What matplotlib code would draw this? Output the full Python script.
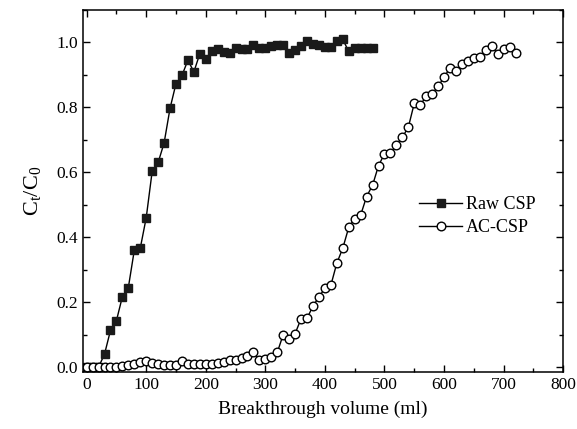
import matplotlib
matplotlib.use("Agg")
import matplotlib.pyplot as plt
from matplotlib.ticker import MultipleLocator

plt.rcParams['font.family'] = ['Liberation Serif', 'DejaVu Serif']
plt.rcParams['mathtext.fontset'] = 'custom'
plt.rcParams['mathtext.rm'] = 'Liberation Serif'
plt.rcParams['mathtext.it'] = 'Liberation Serif'

raw_x = [0, 10, 20, 30, 40, 50, 60, 70, 80, 90, 100, 110, 120, 130, 140, 150, 160, 170, 180, 190,
         200, 210, 220, 230, 240, 250, 260, 270, 280, 290, 300, 310, 320, 330, 340, 350, 360, 370,
         380, 390, 400, 410, 420, 430, 440, 450, 460, 470, 480]
raw_y = [0.0, 0.0, 0.0, 0.04, 0.113, 0.143, 0.217, 0.245, 0.36, 0.366, 0.46, 0.603, 0.63, 0.69,
         0.797, 0.873, 0.898, 0.945, 0.909, 0.965, 0.948, 0.972, 0.98, 0.971, 0.968, 0.983, 0.978,
         0.979, 0.991, 0.982, 0.982, 0.99, 0.992, 0.993, 0.968, 0.977, 0.989, 1.005, 0.995, 0.993,
         0.986, 0.985, 1.003, 1.009, 0.972, 0.982, 0.982, 0.982, 0.982]

ac_x = list(range(0, 730, 10))
ac_y = [0.0, 0.0, 0.0, 0.0, 0.0, 0.0, 0.003, 0.007, 0.01, 0.015, 0.018, 0.011, 0.009, 0.007,
        0.007, 0.007, 0.018, 0.008, 0.008, 0.008, 0.008, 0.009, 0.012, 0.015, 0.023, 0.021,
        0.027, 0.034, 0.045, 0.022, 0.024, 0.032, 0.045, 0.1, 0.087, 0.103, 0.149, 0.15, 0.188,
        0.216, 0.243, 0.252, 0.32, 0.366, 0.43, 0.457, 0.468, 0.525, 0.56, 0.62, 0.657, 0.658,
        0.685, 0.708, 0.738, 0.812, 0.806, 0.835, 0.841, 0.865, 0.892, 0.922, 0.913, 0.933,
        0.942, 0.953, 0.955, 0.975, 0.988, 0.965, 0.978, 0.987, 0.966]

fig = plt.figure(figsize=(5.77, 4.29), dpi=100)
ax = fig.add_axes([0.144, 0.133, 0.832, 0.844])

ax.plot(raw_x, raw_y, color='black', lw=1.0, marker='s', markersize=5.2,
        markerfacecolor='#1a1a1a', markeredgecolor='#1a1a1a', label='Raw CSP', zorder=2)
ax.plot(ac_x, ac_y, color='black', lw=1.0, marker='o', markersize=6.2,
        markerfacecolor='white', markeredgecolor='black', markeredgewidth=1.0,
        label='AC-CSP', zorder=3)

ax.set_xlim(-6, 800)
ax.set_ylim(-0.015, 1.1)
ax.xaxis.set_major_locator(MultipleLocator(100))
ax.xaxis.set_minor_locator(MultipleLocator(50))
ax.yaxis.set_major_locator(MultipleLocator(0.2))
ax.yaxis.set_minor_locator(MultipleLocator(0.1))
ax.yaxis.set_major_formatter(matplotlib.ticker.FormatStrFormatter('%.1f'))
ax.tick_params(which='both', direction='in', top=True, right=True, labelsize=12.5, width=1.0)
ax.tick_params(which='major', length=5)
ax.tick_params(which='minor', length=3)
for s in ax.spines.values():
    s.set_linewidth(1.1)

ax.set_xlabel('Breakthrough volume (ml)', fontsize=14, labelpad=6)
ax.set_ylabel('$\\mathrm{C_t/C_0}$', fontsize=16, labelpad=10)

ax.legend(loc='center left', bbox_to_anchor=(0.685, 0.43), frameon=False, fontsize=13,
          handlelength=2.4, handletextpad=0.2, labelspacing=0.35, borderaxespad=0)

fig.savefig('out.png', dpi=100)
